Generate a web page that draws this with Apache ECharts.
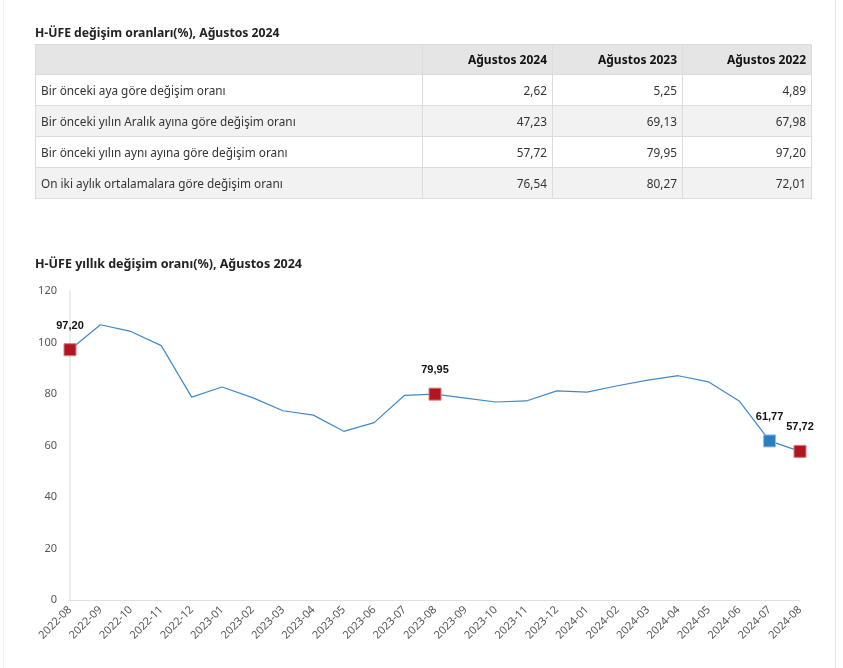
<!DOCTYPE html>
<html>
<head>
<meta charset="utf-8">
<script src="https://cdn.jsdelivr.net/npm/echarts@6/dist/echarts.min.js"></script>
<style>
html,body{margin:0;padding:0;background:#fff;}
body{width:843px;height:668px;position:relative;overflow:hidden;font-family:"Segoe UI","Noto Sans","Open Sans",sans-serif;}
#leftedge{position:absolute;left:3px;top:0;width:1px;height:668px;background:#f0f0f0;}
#rightedge{position:absolute;left:835px;top:0;width:1px;height:668px;background:#e2e2e2;}
#chart{position:absolute;left:0;top:0;width:843px;height:668px;}
#ttitle{position:absolute;left:35px;top:24px;font-size:12.2px;font-weight:bold;color:#222;white-space:nowrap;}
table{position:absolute;left:35px;top:44px;border-collapse:collapse;font-size:11.8px;color:#333;table-layout:fixed;}
td,th{border:1px solid #dcdcdc;padding:0 5px;height:30px;white-space:nowrap;}
th{background:#e5e5e5;font-weight:bold;color:#111;text-align:right;font-size:12px;height:29px;}
td.num{text-align:right;}
td.lab{text-align:left;}
tr.alt td{background:#f2f2f2;}
</style>
</head>
<body>
<div id="leftedge"></div>
<div id="rightedge"></div>
<div id="chart"></div>
<div id="ttitle"></div>
<table id="tbl"></table>
<script>
// ---- Table data ----
const tableTitle = "H-ÜFE değişim oranları(%), Ağustos 2024";
const tableColumns = ["Ağustos 2024", "Ağustos 2023", "Ağustos 2022"];
const tableRowLabels = [
  "Bir önceki aya göre değişim oranı",
  "Bir önceki yılın Aralık ayına göre değişim oranı",
  "Bir önceki yılın aynı ayına göre değişim oranı",
  "On iki aylık ortalamalara göre değişim oranı"
];
const tableAug2024 = ["2,62", "47,23", "57,72", "76,54"];
const tableAug2023 = ["5,25", "69,13", "79,95", "80,27"];
const tableAug2022 = ["4,89", "67,98", "97,20", "72,01"];

// ---- Chart data ----
const chartTitle = "H-ÜFE yıllık değişim oranı(%), Ağustos 2024";
const months = ["2022-08","2022-09","2022-10","2022-11","2022-12","2023-01","2023-02","2023-03","2023-04","2023-05","2023-06","2023-07","2023-08","2023-09","2023-10","2023-11","2023-12","2024-01","2024-02","2024-03","2024-04","2024-05","2024-06","2024-07","2024-08"];
const annualChange = [97.20, 106.9, 104.3, 98.8, 78.8, 82.7, 78.6, 73.5, 71.8, 65.5, 68.9, 79.5, 79.95, 78.4, 76.9, 77.3, 81.2, 80.7, 83.2, 85.4, 87.1, 84.7, 77.3, 61.77, 57.72];
const redMonths = ["2022-08", "2023-08", "2024-08"];
const blueMonths = ["2024-07"];
const yTicks = [0, 20, 40, 60, 80, 100, 120];

// build table
document.getElementById('ttitle').textContent = tableTitle;
const colW = [387, 130, 130, 129];
let html = '<colgroup>' + colW.map(w => '<col style="width:' + w + 'px">').join('') + '</colgroup>';
html += '<tr><th></th>' + tableColumns.map(c => '<th>' + c + '</th>').join('') + '</tr>';
tableRowLabels.forEach((l, i) => {
  html += '<tr class="' + (i % 2 ? 'alt' : '') + '"><td class="lab">' + l + '</td><td class="num">' + tableAug2024[i] + '</td><td class="num">' + tableAug2023[i] + '</td><td class="num">' + tableAug2022[i] + '</td></tr>';
});
document.getElementById('tbl').innerHTML = html;

const RED = '#ae1720';
const BLUE = '#2e7dbd';
const fmt = v => v.toFixed(2).replace('.', ',');

const seriesData = annualChange.map((v, i) => {
  const m = months[i];
  if (redMonths.includes(m) || blueMonths.includes(m)) {
    const isRed = redMonths.includes(m);
    return {
      value: v,
      symbol: 'rect',
      symbolSize: 12,
      itemStyle: { color: isRed ? RED : BLUE, borderColor: isRed ? '#e07a80' : '#8fbde3', borderWidth: 1 },
      label: { show: true, position: 'top', distance: 12, formatter: p => fmt(p.value), color: '#111', fontWeight: 'bold', fontSize: 11, fontFamily: 'Arial, "Liberation Sans", sans-serif' }
    };
  }
  return { value: v, symbol: 'none' };
});

const chart = echarts.init(document.getElementById('chart'), null, { renderer: 'canvas' });
chart.setOption({
  animation: false,
  title: {
    text: chartTitle, left: 30, top: 253,
    textStyle: { fontSize: 12.5, fontWeight: 'bold', color: '#222', fontFamily: '"Segoe UI","Noto Sans","Open Sans",sans-serif' }
  },
  grid: { left: 70, right: 43, top: 291, bottom: 68, containLabel: false },
  xAxis: {
    type: 'category', data: months, boundaryGap: false,
    axisLine: { show: true, lineStyle: { color: '#e0e0e0', width: 1 } },
    axisTick: { show: false },
    axisLabel: { rotate: 45, color: '#555', fontSize: 11, margin: 8, interval: 0, fontFamily: '"Segoe UI","Noto Sans","Open Sans",sans-serif' },
    splitLine: { show: false }
  },
  yAxis: {
    type: 'value', min: 0, max: 120, interval: 20,
    axisLine: { show: true, lineStyle: { color: '#ececec', width: 2 } },
    axisTick: { show: false },
    axisLabel: { color: '#555', fontSize: 11, margin: 13, fontFamily: '"Segoe UI","Noto Sans","Open Sans",sans-serif',
      customValues: yTicks },
    splitLine: { show: false }
  },
  series: [{
    type: 'line',
    data: seriesData,
    showAllSymbol: true,
    lineStyle: { color: '#3f89c9', width: 1.2 },
    itemStyle: { color: '#3f89c9' },
    z: 3
  }]
});
</script>
</body>
</html>
